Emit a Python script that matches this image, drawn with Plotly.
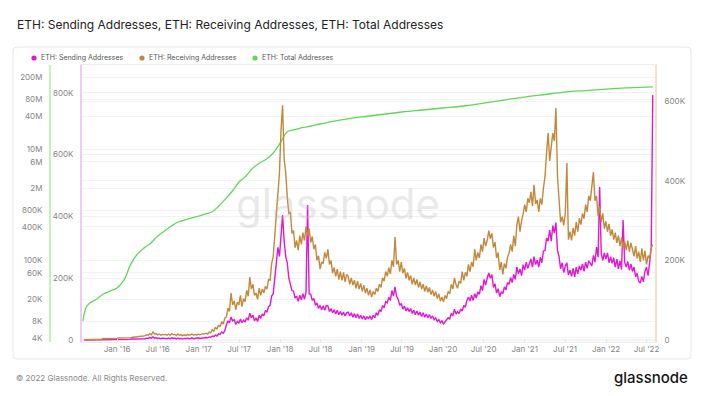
import pandas as pd
import plotly.graph_objects as go

# ---------------- data ----------------
weeks = pd.date_range("2015-08-07", periods=365, freq="7D")

# ETH: Receiving Addresses (thousands), weekly
receiving_k = [
    1, 1, 1, 1, 1, 2, 2, 2, 2, 2, 2, 2, 3,
    3, 3, 3, 3, 3, 4, 4, 4, 4, 5, 5, 5, 5,
    5, 5, 6, 6, 6, 7, 7, 8, 8, 9, 9, 10, 10,
    11, 13, 12, 16, 13, 20, 15, 16, 13, 15, 12, 14, 13,
    14, 12, 15, 12, 16, 13, 14, 11, 15, 12, 13, 11, 13,
    11, 14, 12, 13, 15, 12, 14, 12, 15, 13, 14, 16, 15,
    17, 15, 20, 18, 26, 22, 32, 27, 38, 33, 46, 40, 55,
    58, 80, 72, 118, 88, 98, 76, 95, 88, 112, 84, 104, 96,
    125, 110, 158, 128, 140, 112, 118, 102, 130, 112, 128, 118, 135,
    128, 152, 150, 192, 210, 262, 310, 369, 420, 528, 590, 455, 420,
    359, 318, 320, 268, 275, 232, 250, 226, 262, 240, 270, 250, 285,
    262, 280, 245, 260, 228, 240, 200, 212, 178, 196, 192, 220, 205,
    228, 190, 200, 168, 182, 160, 178, 152, 172, 150, 170, 146, 165,
    160, 140, 156, 138, 150, 130, 148, 128, 142, 122, 138, 118, 130,
    112, 126, 108, 122, 114, 130, 122, 140, 132, 156, 148, 172, 160,
    182, 166, 200, 184, 259, 190, 200, 172, 196, 168, 180, 155, 170,
    150, 162, 140, 156, 138, 152, 132, 146, 128, 140, 122, 136, 120,
    132, 114, 126, 110, 122, 104, 116, 98, 108, 96, 112, 104, 122,
    116, 140, 128, 156, 140, 130, 148, 142, 172, 150, 170, 160, 190,
    172, 196, 184, 228, 200, 220, 206, 240, 222, 256, 236, 250, 275,
    255, 268, 232, 246, 206, 220, 176, 196, 165, 192, 180, 208, 218,
    240, 222, 262, 236, 290, 310, 272, 300, 316, 340, 322, 356, 345,
    372, 336, 390, 342, 352, 322, 356, 340, 382, 410, 470, 520, 450,
    482, 520, 500, 583, 410, 340, 296, 310, 288, 318, 445, 252, 272,
    250, 282, 262, 296, 272, 306, 290, 318, 305, 340, 322, 362, 350,
    392, 422, 350, 362, 312, 336, 296, 318, 280, 298, 272, 292, 262,
    278, 252, 270, 244, 262, 236, 258, 230, 248, 226, 250, 222, 244,
    228, 210, 236, 205, 222, 196, 230, 200, 224, 190, 212, 205, 232,
    240,
]

# ETH: Sending Addresses (thousands), weekly
sending_k = [
    0, 0, 1, 1, 1, 1, 1, 1, 1, 1, 1, 1, 1,
    1, 1, 1, 1, 1, 1, 2, 2, 2, 2, 2, 2, 2,
    2, 2, 2, 2, 3, 3, 3, 3, 3, 3, 4, 4, 4,
    4, 6, 5, 8, 6, 10, 6, 7, 5, 6, 4, 6, 5,
    6, 4, 6, 4, 7, 5, 6, 4, 6, 4, 5, 3, 5,
    4, 6, 4, 5, 7, 4, 5, 4, 7, 5, 6, 7, 6,
    8, 7, 10, 9, 13, 11, 16, 13, 20, 18, 26, 22, 30,
    48, 62, 56, 74, 62, 66, 50, 60, 54, 68, 56, 64, 58,
    72, 64, 87, 72, 80, 62, 72, 60, 80, 70, 84, 78, 96,
    90, 108, 112, 142, 150, 204, 240, 300, 270, 350, 404, 320, 270,
    250, 200, 180, 160, 158, 136, 142, 125, 145, 130, 150, 132, 155,
    437, 150, 148, 128, 135, 112, 120, 102, 112, 98, 110, 96, 112,
    110, 92, 102, 88, 98, 84, 96, 82, 92, 80, 90, 78, 88,
    90, 78, 88, 74, 86, 72, 84, 70, 80, 68, 78, 66, 76,
    68, 78, 66, 80, 72, 88, 80, 98, 92, 112, 104, 124, 120,
    138, 128, 160, 142, 172, 140, 132, 112, 118, 100, 110, 94, 104,
    92, 102, 86, 96, 82, 94, 80, 90, 76, 88, 74, 84, 72,
    82, 70, 78, 66, 72, 60, 66, 56, 62, 52, 58, 64, 72,
    68, 86, 78, 100, 84, 92, 86, 100, 94, 112, 106, 128, 139,
    126, 145, 128, 150, 136, 156, 148, 176, 160, 196, 178, 200, 217,
    200, 212, 170, 182, 152, 166, 140, 156, 150, 172, 162, 186, 180,
    202, 186, 212, 196, 236, 214, 230, 208, 244, 226, 252, 232, 249,
    262, 236, 270, 244, 258, 236, 268, 250, 288, 290, 330, 320, 356,
    320, 370, 346, 380, 290, 270, 230, 250, 218, 240, 250, 210, 226,
    206, 232, 204, 236, 214, 240, 226, 246, 222, 252, 232, 256, 248,
    240, 274, 252, 301, 268, 495, 280, 258, 282, 262, 282, 250, 270,
    248, 266, 236, 262, 230, 256, 228, 388, 252, 236, 254, 226, 246,
    222, 236, 204, 216, 190, 184, 206, 188, 222, 236, 208, 250, 300,
    793,
]

# ETH: Total Addresses
total_dates = [
    "2015-08-01", "2015-08-15", "2015-09-01", "2015-10-01", "2015-11-01", "2015-12-01",
    "2016-01-01", "2016-02-01", "2016-03-01", "2016-04-01", "2016-05-01", "2016-06-01",
    "2016-07-01", "2016-08-01", "2016-09-01", "2016-10-01", "2016-11-01", "2016-12-01",
    "2017-01-01", "2017-02-01", "2017-03-01", "2017-04-01", "2017-05-01", "2017-06-01",
    "2017-07-01", "2017-08-01", "2017-09-01", "2017-10-01", "2017-11-01", "2017-12-01",
    "2018-01-01", "2018-02-01", "2018-03-01", "2018-04-01", "2018-05-01", "2018-07-01",
    "2018-10-01", "2019-01-01", "2019-04-01", "2019-07-01", "2019-10-01", "2020-01-01",
    "2020-04-01", "2020-07-01", "2020-10-01", "2021-01-01", "2021-04-01", "2021-07-01",
    "2021-10-01", "2022-01-01", "2022-04-01", "2022-07-01", "2022-07-29",
]
total_values = [
    8000, 14000, 17000, 20000, 24800, 28000,
    31900, 44000, 83000, 130000, 167000, 206000,
    275000, 339000, 417000, 492000, 535000, 581000,
    631000, 686000, 745000, 955000, 1280000, 1780000,
    2590000, 3320000, 4620000, 5690000, 6700000, 8600000,
    13000000, 20600000, 22400000, 24300000, 25500000, 28700000,
    33900000, 38400000, 42600000, 47200000, 51300000, 55700000,
    60500000, 68500000, 77600000, 87900000, 97500000, 108000000,
    115000000, 122000000, 128000000, 133000000, 134000000,
]

linear_left_ticks = [0, 200000, 400000, 600000, 800000]
linear_left_text = ["0", "200K", "400K", "600K", "800K"]
right_ticks = [0, 200000, 400000, 600000]
right_text = ["0", "200K", "400K", "600K"]
log_ticks = [4e3, 8e3, 2e4, 6e4, 1e5, 4e5, 8e5, 2e6, 6e6, 1e7, 4e7, 8e7, 2e8]
log_text = ["4K", "8K", "20K", "60K", "100K", "400K", "800K", "2M", "6M", "10M", "40M", "80M", "200M"]

names = ["ETH: Sending Addresses", "ETH: Receiving Addresses", "ETH: Total Addresses"]
colors = ["#e316d3", "#c2893c", "#62d658"]

# ---------------- figure ----------------
# the page body has an 8px margin, so the figure is placed at (8, 8) in the window
OFF = 8
W, H = 704 - OFF, 396 - OFF


def px(x):
    return (x - OFF) / W


def py(y):
    return 1 - (y - OFF) / H


FONT = "Inter, Noto Sans, sans-serif"
tickfont = dict(family=FONT, size=8, color="#858585")

fig = go.Figure()
fig.add_trace(go.Scatter(x=weeks, y=[v * 1000 for v in receiving_k], name=names[1],
                         mode="lines", line=dict(color=colors[1], width=1.4), yaxis="y3"))
fig.add_trace(go.Scatter(x=weeks, y=[v * 1000 for v in sending_k], name=names[0],
                         mode="lines", line=dict(color=colors[0], width=1.4), yaxis="y"))
fig.add_trace(go.Scatter(x=pd.to_datetime(total_dates), y=total_values, name=names[2],
                         mode="lines", line=dict(color=colors[2], width=1.3, shape="spline"),
                         yaxis="y2"))

ydom = [py(341.7), py(65)]
fig.update_layout(
    width=W, height=H,
    margin=dict(l=0, r=0, t=0, b=0),
    paper_bgcolor="white", plot_bgcolor="white",
    showlegend=False,
    xaxis=dict(domain=[px(82), px(655)], type="date",
               range=["2015-07-28", "2022-08-08"],
               tick0="2016-01-01", dtick="M6", tickformat="%b '%y",
               tickfont=tickfont, showgrid=False, zeroline=False,
               showline=True, linecolor="#ececec", linewidth=1, mirror=True,
               ticks="inside", ticklen=3, tickcolor="#e3e3e3", automargin=False),
    yaxis=dict(domain=ydom, range=[-5500, 890000], side="left",
               tickvals=linear_left_ticks, ticktext=linear_left_text,
               tickfont=tickfont, showgrid=True, gridcolor="#f1f1f1",
               zeroline=False, showline=True, linecolor="#f6c9f1", linewidth=2,
               ticks="outside", ticklen=5, tickcolor="rgba(0,0,0,0)", automargin=False),
    yaxis2=dict(type="log", range=[3.535, 8.521], overlaying="y", anchor="free",
                position=px(50), side="left",
                tickvals=log_ticks, ticktext=log_text,
                tickfont=tickfont, showgrid=True, gridcolor="#f3f3f3",
                zeroline=False, showline=True, linecolor="#c8f0bf", linewidth=2,
                ticks="outside", ticklen=5, tickcolor="rgba(0,0,0,0)", automargin=False),
    yaxis3=dict(range=[-4300, 691000], overlaying="y", anchor="x", side="right",
                tickvals=right_ticks, ticktext=right_text,
                tickfont=tickfont, showgrid=True, gridcolor="#f3f3f3",
                zeroline=False, showline=True, linecolor="#f3e2cb", linewidth=2,
                ticks="outside", ticklen=6, tickcolor="rgba(0,0,0,0)", automargin=False),
)

# card border (rounded rectangle)
x0, x1, y0, y1, r = px(13), px(691), py(47), py(359), 4
rx, ry = r / W, r / H
card = (f"M {x0+rx},{y0} L {x1-rx},{y0} Q {x1},{y0} {x1},{y0-ry} "
        f"L {x1},{y1+ry} Q {x1},{y1} {x1-rx},{y1} L {x0+rx},{y1} "
        f"Q {x0},{y1} {x0},{y1+ry} L {x0},{y0-ry} Q {x0},{y0} {x0+rx},{y0} Z")
fig.add_shape(type="path", path=card, xref="paper", yref="paper",
              line=dict(color="#e8e8e8", width=1), layer="below")

# legend (drawn manually: dot + label)
legend_dots = [34, 142, 255]
for name, col, cx in zip(names, colors, legend_dots):
    fig.add_shape(type="circle", xref="paper", yref="paper",
                  x0=px(cx - 2.6), x1=px(cx + 2.6), y0=py(58 + 2.6), y1=py(58 - 2.6),
                  fillcolor=col, line=dict(width=0))
    fig.add_annotation(x=px(cx + 5), y=py(58), xref="paper", yref="paper",
                       text=name, showarrow=False, xanchor="left", yanchor="middle",
                       font=dict(family=FONT, size=7, color="#555555"))

# title
fig.add_annotation(x=px(15), y=py(25), xref="paper", yref="paper",
                   text="ETH: Sending Addresses, ETH: Receiving Addresses, ETH: Total Addresses",
                   showarrow=False, xanchor="left", yanchor="middle",
                   font=dict(family=FONT, size=12, color="#222222"))

# watermark
fig.add_annotation(x=px(338), y=py(203), xref="paper", yref="paper",
                   text="glassnode", showarrow=False, xanchor="center", yanchor="middle",
                   font=dict(family=FONT, size=42, color="rgba(185,185,185,0.32)"))

# footer
fig.add_annotation(x=px(14), y=py(378), xref="paper", yref="paper",
                   text="© 2022 Glassnode. All Rights Reserved.", showarrow=False,
                   xanchor="left", yanchor="middle",
                   font=dict(family=FONT, size=8, color="#8a8a8a"))
fig.add_annotation(x=px(690), y=py(377), xref="paper", yref="paper",
                   text="glassnode", showarrow=False, xanchor="right", yanchor="middle",
                   font=dict(family=FONT, size=15, color="#151515", weight=500))

fig.write_html("out.html")
